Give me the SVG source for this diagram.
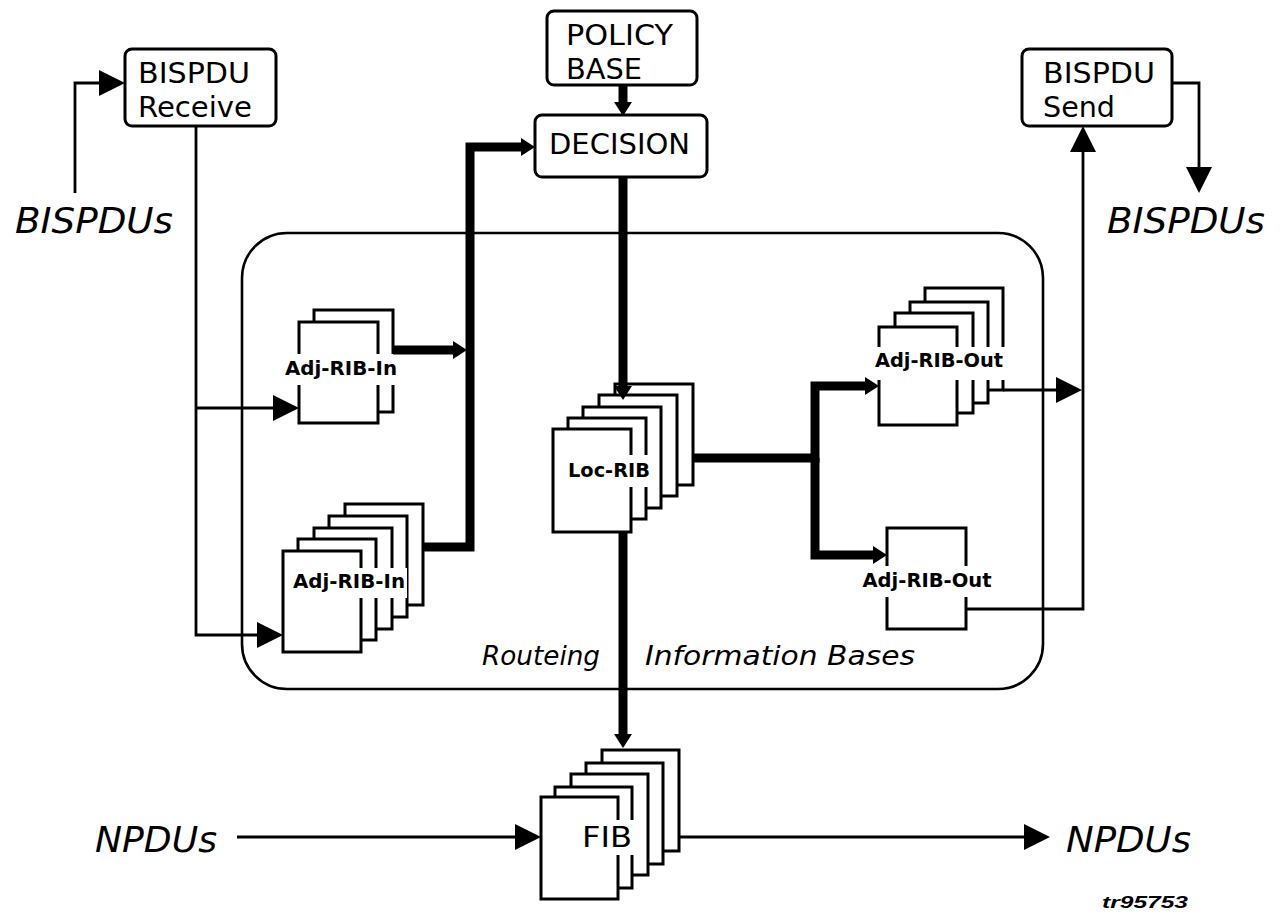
<svg xmlns="http://www.w3.org/2000/svg" width="1280" height="917" viewBox="0 0 1280 917">
<style>
.box{fill:#fff;stroke:#000;stroke-width:3}
.pg{fill:#fff;stroke:#000;stroke-width:3}
.cont{fill:none;stroke:#000;stroke-width:2.6}
.thin{fill:none;stroke:#000;stroke-width:2.8}
.thick{fill:none;stroke:#000;stroke-width:9;stroke-linejoin:miter}
.bt{font-family:"DejaVu Sans",sans-serif;font-size:28px;fill:#000}
.lbl{font-family:"DejaVu Sans",sans-serif;font-size:20px;font-weight:bold;fill:#000;text-anchor:middle}
.it{font-family:"DejaVu Sans",sans-serif;font-style:italic;fill:#000}
.bg{fill:#fff;stroke:none}
</style>
<defs>
<marker id="at" markerUnits="userSpaceOnUse" markerWidth="26" markerHeight="26" refX="0" refY="13" orient="auto" viewBox="0 0 26 26">
<path d="M0,0 L26,13 L0,26 Z" fill="#000"/>
</marker>
<marker id="ak" markerUnits="userSpaceOnUse" markerWidth="14" markerHeight="18" refX="0" refY="9" orient="auto" viewBox="0 0 14 18">
<path d="M0,0 L14,9 L0,18 Z" fill="#000"/>
</marker>
</defs>
<rect width="1280" height="917" fill="#fff"/>

<g id="container">
<rect class="cont" x="242" y="233" width="801" height="456" rx="45" ry="45"/>
<text class="it" x="482" y="665" font-size="26" textLength="118" lengthAdjust="spacingAndGlyphs">Routeing</text>
<text class="it" x="645" y="665" font-size="26" textLength="270" lengthAdjust="spacingAndGlyphs">Information Bases</text>
</g>

<g id="bispdu-receive">
<rect class="box" x="125" y="49" width="151" height="77" rx="7"/>
<text class="bt" x="138" y="83" textLength="112" lengthAdjust="spacingAndGlyphs">BISPDU</text>
<text class="bt" x="138" y="117" textLength="114" lengthAdjust="spacingAndGlyphs">Receive</text>
</g>

<g id="policy-base">
<rect class="box" x="547" y="11" width="150" height="74" rx="7"/>
<text class="bt" x="566" y="45" font-size="29" textLength="107" lengthAdjust="spacingAndGlyphs">POLICY</text>
<text class="bt" x="566" y="79" font-size="29" textLength="76" lengthAdjust="spacingAndGlyphs">BASE</text>
</g>

<g id="decision">
<rect class="box" x="535" y="115" width="172" height="62" rx="7"/>
<text class="bt" x="549" y="154" textLength="141" lengthAdjust="spacingAndGlyphs">DECISION</text>
</g>

<g id="bispdu-send">
<rect class="box" x="1022" y="49" width="150" height="77" rx="7"/>
<text class="bt" x="1043" y="83" textLength="112" lengthAdjust="spacingAndGlyphs">BISPDU</text>
<text class="bt" x="1043" y="117" textLength="72" lengthAdjust="spacingAndGlyphs">Send</text>
</g>

<g id="adj-rib-in-1">
<rect class="pg" x="314" y="310" width="79" height="102"/>
<rect class="pg" x="299" y="322" width="79" height="101"/>
<rect class="bg" x="283" y="354" width="116" height="31"/>
<text class="lbl" x="341" y="375" textLength="112" lengthAdjust="spacingAndGlyphs">Adj-RIB-In</text>
</g>

<g id="adj-rib-in-2">
<rect class="pg" x="345" y="504" width="78" height="101"/>
<rect class="pg" x="329" y="516" width="78" height="101"/>
<rect class="pg" x="314" y="528" width="78" height="101"/>
<rect class="pg" x="298" y="539" width="78" height="101"/>
<rect class="pg" x="283" y="551" width="78" height="101"/>
<rect class="bg" x="291" y="568" width="116" height="30"/>
<text class="lbl" x="349" y="588" textLength="112" lengthAdjust="spacingAndGlyphs">Adj-RIB-In</text>
</g>

<g id="loc-rib">
<rect class="pg" x="615" y="384" width="78" height="101"/>
<rect class="pg" x="599" y="395" width="78" height="101"/>
<rect class="pg" x="583" y="407" width="78" height="101"/>
<rect class="pg" x="568" y="418" width="78" height="101"/>
<rect class="pg" x="553" y="429" width="78" height="103"/>
<rect class="bg" x="566" y="455" width="87" height="32"/>
<text class="lbl" x="609" y="477" textLength="82" lengthAdjust="spacingAndGlyphs">Loc-RIB</text>
</g>

<g id="adj-rib-out-1">
<rect class="pg" x="925" y="288" width="78" height="102"/>
<rect class="pg" x="910" y="302" width="78" height="101"/>
<rect class="pg" x="895" y="313" width="78" height="100"/>
<rect class="pg" x="879" y="327" width="78" height="98"/>
<rect class="bg" x="873" y="347" width="132" height="33"/>
<text class="lbl" x="939" y="367" textLength="128" lengthAdjust="spacingAndGlyphs">Adj-RIB-Out</text>
</g>

<g id="adj-rib-out-2">
<rect class="pg" x="887" y="528" width="79" height="101"/>
<rect class="bg" x="861" y="566" width="133" height="31"/>
<text class="lbl" x="927" y="587" textLength="129" lengthAdjust="spacingAndGlyphs">Adj-RIB-Out</text>
</g>

<g id="fib">
<rect class="pg" x="602" y="750" width="77" height="101"/>
<rect class="pg" x="586" y="763" width="77" height="101"/>
<rect class="pg" x="571" y="774" width="77" height="101"/>
<rect class="pg" x="555" y="787" width="77" height="101"/>
<rect class="pg" x="541" y="797" width="77" height="102"/>
<rect class="bg" x="578" y="820" width="58" height="35"/>
<text class="bt" x="582" y="847" textLength="50" lengthAdjust="spacingAndGlyphs">FIB</text>
</g>

<g id="labels">
<text class="it" x="15" y="233" font-size="35" textLength="158" lengthAdjust="spacingAndGlyphs">BISPDUs</text>
<text class="it" x="1107" y="233" font-size="35" textLength="158" lengthAdjust="spacingAndGlyphs">BISPDUs</text>
<text class="it" x="95" y="852" font-size="36" textLength="122" lengthAdjust="spacingAndGlyphs">NPDUs</text>
<text class="it" x="1066" y="852" font-size="36" textLength="125" lengthAdjust="spacingAndGlyphs">NPDUs</text>
<text x="1102" y="908" font-family="Liberation Sans, sans-serif" font-size="17" font-weight="bold" font-style="italic" textLength="86" lengthAdjust="spacingAndGlyphs">tr95753</text>
</g>

<g id="connectors">
<path class="thin" d="M75,193 V83 H99" marker-end="url(#at)"/>
<path class="thin" d="M196,126 V635 H257" marker-end="url(#at)"/>
<path class="thin" d="M196,408 H273" marker-end="url(#at)"/>
<path class="thick" d="M393,350 H453" marker-end="url(#ak)"/>
<path class="thick" d="M423,547 H470 V147 H521" marker-end="url(#ak)"/>
<path class="thick" d="M623,85 V102" marker-end="url(#ak)"/>
<path class="thick" d="M623,177 V386" marker-end="url(#ak)"/>
<path class="thick" d="M623,532 V734" marker-end="url(#ak)"/>
<path class="thick" d="M692,458 H815 V386 H865" marker-end="url(#ak)"/>
<path class="thick" d="M815,458 V555 H873" marker-end="url(#ak)"/>
<path class="thin" d="M1003,390 H1056" marker-end="url(#at)"/>
<path class="thin" d="M966,609 H1083 V152" marker-end="url(#at)"/>
<path class="thin" d="M1172,83 H1199 V167" marker-end="url(#at)"/>
<path class="thin" d="M237,837 H515" marker-end="url(#at)"/>
<path class="thin" d="M679,837 H1024" marker-end="url(#at)"/>
</g>
</svg>
